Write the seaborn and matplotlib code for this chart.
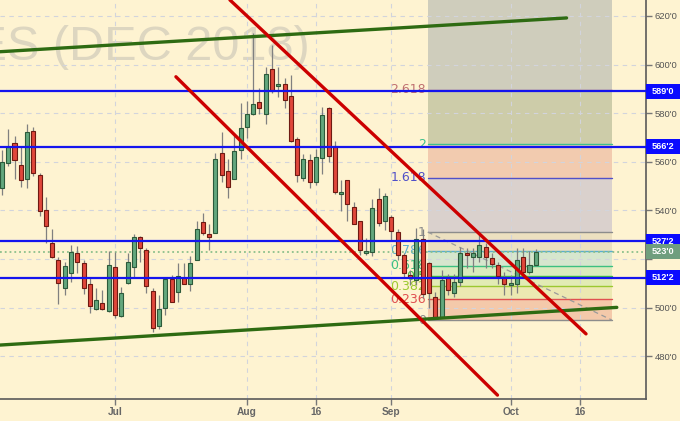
import matplotlib
matplotlib.use('Agg')
import matplotlib.pyplot as plt
import matplotlib.transforms as mtransforms
from matplotlib.patches import Rectangle
import numpy as np
import pandas as pd
import seaborn as sns

# Trading day index, day 0 = 2 Jul 2018
days = list(range(-18, 68))
opens = [549.2, 559.5, 567.7, 558.7, 552.9, 572.7, 554.6, 540.2, 526.6, 519.6,
         508.1, 514.2, 522.5, 518.4, 509.7, 499.4, 501.9, 498.6, 516.7, 496.5,
         510.1, 516.7, 529.0, 523.7, 506.8, 492.4, 499.8, 511.8, 506.4, 512.2,
         509.7, 519.6, 535.2, 530.3, 530.7, 563.6, 556.2, 552.9, 564.9, 574.3,
         579.7, 584.6, 579.7, 598.2, 591.2, 592.0, 587.1, 569.4, 553.3, 560.7,
         551.7, 561.6, 582.1, 566.5, 546.9, 552.5, 541.4, 535.6, 522.5, 522.9,
         544.7, 535.6, 537.3, 531.1, 521.6, 513.4, 511.4, 528.2, 518.4, 504.4,
         496.1, 512.6, 506.0, 510.5, 522.5, 520.8, 520.8, 524.9, 520.4, 517.6,
         512.6, 509.3, 509.7, 520.8, 514.7, 517.6]
highs = [564.9, 573.5, 570.6, 566.1, 575.5, 574.3, 555.4, 545.5, 532.3, 520.8,
         518.8, 525.8, 525.4, 519.6, 512.6, 508.1, 507.2, 523.3, 522.9, 508.5,
         522.5, 530.3, 529.4, 524.5, 508.1, 505.2, 512.6, 513.4, 518.4, 518.4,
         521.2, 535.6, 538.9, 534.4, 563.6, 572.3, 561.2, 571.0, 584.2, 585.0,
         613.0, 590.4, 599.0, 608.1, 599.0, 594.5, 595.7, 570.2, 563.2, 563.2,
         565.3, 582.5, 582.5, 568.6, 552.5, 552.5, 543.4, 535.6, 528.6, 544.7,
         549.2, 547.2, 538.1, 532.3, 522.5, 515.5, 532.8, 532.3, 518.8, 506.4,
         515.5, 513.8, 513.8, 524.9, 524.5, 524.5, 531.1, 526.6, 522.5, 518.8,
         514.7, 513.4, 524.5, 524.5, 523.3, 524.1]
lows = [546.3, 558.3, 552.9, 549.6, 549.2, 554.2, 537.7, 526.6, 520.4, 501.5,
        505.2, 510.5, 514.2, 505.6, 497.8, 499.0, 499.0, 498.2, 495.7, 496.1,
        509.7, 512.6, 518.8, 506.0, 490.0, 491.2, 497.0, 502.3, 502.3, 509.7,
        506.8, 519.6, 529.9, 523.7, 530.7, 551.7, 545.1, 552.9, 561.2, 569.8,
        579.3, 579.7, 575.5, 588.3, 586.7, 582.1, 568.1, 551.7, 552.1, 549.2,
        550.4, 555.0, 559.9, 546.7, 539.8, 535.6, 534.4, 521.6, 521.6, 521.2,
        533.6, 531.9, 527.8, 519.6, 512.6, 509.3, 509.3, 504.0, 499.8, 495.7,
        495.7, 505.2, 504.4, 508.9, 516.3, 514.7, 518.8, 516.3, 516.3, 509.7,
        505.2, 505.2, 506.0, 513.0, 513.8, 517.1]
closes = [559.9, 566.1, 560.7, 552.5, 572.3, 555.4, 539.8, 533.6, 520.8, 510.1,
          517.1, 522.9, 518.8, 508.1, 500.7, 503.1, 499.4, 517.6, 497.0, 506.0,
          518.8, 529.0, 524.5, 508.9, 491.6, 499.4, 511.8, 502.3, 513.0, 509.7,
          518.4, 532.3, 530.7, 529.0, 561.2, 554.6, 549.6, 564.4, 573.9, 579.7,
          583.8, 582.1, 596.1, 589.1, 592.0, 585.4, 568.6, 554.6, 561.2, 551.7,
          562.0, 579.3, 562.4, 547.6, 547.4, 542.6, 534.4, 523.7, 523.3, 541.0,
          534.8, 545.9, 531.5, 521.6, 514.2, 512.6, 528.2, 505.6, 506.0, 496.1,
          511.4, 507.2, 510.5, 522.5, 521.6, 522.5, 525.8, 520.8, 518.0, 513.0,
          509.7, 510.1, 519.6, 514.7, 517.6, 523.0]

tick_days = [0, 21, 32, 44, 63, 74]
tick_names = ['Jul', 'Aug', '16', 'Sep', 'Oct', '16']
price_ticks = [480, 500, 520, 540, 560, 580, 600, 620]
price_tick_labels = ["480'0", "500'0", "", "540'0", "560'0", "580'0", "600'0", "620'0"]

# Horizontal levels (blue) and last price
levels = [589.0, 566.25, 527.25, 512.25]
level_labels = ["589'0", "566'2", "527'2", "512'2"]
last_price = 523.0
last_label = "523'0"

# Fibonacci extension block
fib_ratios = ['0', '0.236', '0.382', '0.5', '0.618', '0.786', '1', '1.618', '2', '2.618']
fib_prices = [494.9, 503.4, 508.7, 513.0, 517.3, 523.4, 531.1, 553.5, 567.3, 589.7]
fib_line_colors = ['#8c8c8c', '#e05050', '#9cc830', '#40c040', '#3cc080',
                   '#5aaed0', '#8c8c8c', '#5050c8', '#3cc08c', '#c07070']
fib_fill_colors = ['#f4c9aa', '#ece8b2', '#e2ebb4', '#d9ebbd', '#d6e6cd',
                   '#ece0c0', '#dad1cd', '#f2cbaf', '#cdcca9', '#cfcdbc']
fib_start, fib_end = 49.8, 79.1

# Trendlines (day, price) end points
green_up = ([-18.3, 71.9], [605.3, 619.2])
green_low = ([-18.3, 79.9], [484.6, 500.1])
red_up = ([18.3, 75.0], [626.6, 489.2])
red_low = ([9.7, 60.9], [595.0, 464.0])
fib_diag = ([fib_start, fib_end], [531.1, 494.9])

BG = '#fef3d1'
sns.set_theme(style='white', rc={'axes.facecolor': BG, 'figure.facecolor': BG})
plt.rcParams['font.family'] = ['DejaVu Sans']

fig = plt.figure(figsize=(6.8, 4.21), dpi=100)
ax = fig.add_axes([0, 22 / 421, 646 / 680, 399 / 421])
ax.set_xlim(-18.31, 84.55)
ax.set_ylim(462.4, 626.58)

# watermark
ax.text(31.05, 601.9, 'WHEAT FUTURES (DEC 2018)', ha='right', va='baseline',
        fontsize=35, color='#ddd6c0', family='Liberation Sans', zorder=0.4)

# fibonacci block
edges = fib_prices + [626.58]
for i in range(len(fib_prices)):
    ax.fill_between([fib_start, fib_end], edges[i], edges[i + 1],
                    color=fib_fill_colors[i], lw=0, zorder=0.2)
for r, p, c in zip(fib_ratios, fib_prices, fib_line_colors):
    ax.plot([fib_start, fib_end], [p, p], color=c, lw=1.0, zorder=1)
    ax.text(49.52, p, r, ha='right', va='center', fontsize=9, color=c, zorder=1.5)
sns.lineplot(x=fib_diag[0], y=fib_diag[1], ax=ax, color='#9a9a9a', lw=0.9,
             linestyle=(0, (4, 3)), zorder=1.2)

# last price dotted line
ax.axhline(last_price, color='#8cc08c', ls=':', lw=1.3, zorder=2)

# candles
df = pd.DataFrame({'day': days, 'open': opens, 'high': highs, 'low': lows, 'close': closes})
up = df['close'] >= df['open']
ax.vlines(df['day'], df['low'], df['high'], color='#808080', lw=0.9, zorder=3)
body_low = df[['open', 'close']].min(axis=1)
body_h = (df['close'] - df['open']).abs().clip(lower=0.5)
ax.bar(df['day'][up], body_h[up], bottom=body_low[up], width=0.64,
       color='#63a77d', edgecolor='#2c5a3a', lw=0.8, zorder=4)
ax.bar(df['day'][~up], body_h[~up], bottom=body_low[~up], width=0.64,
       color='#e0473b', edgecolor='#6e1a12', lw=0.8, zorder=4)

# blue levels
for p in levels:
    ax.axhline(p, color='#1414ee', lw=1.6, zorder=5)

# trendlines
for (xs, ys), col in [(green_up, '#2e6b12'), (green_low, '#2e6b12'),
                      (red_up, '#cc0000'), (red_low, '#cc0000')]:
    sns.lineplot(x=xs, y=ys, ax=ax, color=col, lw=2.4, zorder=6,
                 solid_capstyle='round')

# axes styling
for s in ['left', 'top']:
    ax.spines[s].set_visible(False)
for s in ['bottom', 'right']:
    ax.spines[s].set_color('#5a5a5a')
    ax.spines[s].set_linewidth(1.2)
ax.yaxis.tick_right()
ax.set_yticks(price_ticks)
ax.set_yticklabels(price_tick_labels, family='Liberation Sans')
ax.set_xticks(tick_days)
ax.set_xticklabels(tick_names, family='Liberation Sans', fontweight='bold')
ax.tick_params(axis='y', direction='out', length=4, color='#777777', width=1,
               labelsize=6.8, labelcolor='#555555', pad=2, right=True, left=False)
ax.tick_params(axis='x', direction='out', length=4, color='#777777', width=1,
               labelsize=7.3, labelcolor='#666666', pad=2, bottom=True)
ax.grid(True, color='#d2d4dc', linestyle=(0, (4, 4)), linewidth=0.8)
ax.set_axisbelow(True)
ax.set_xlabel('')
ax.set_ylabel('')

# right-side price boxes
trans = mtransforms.blended_transform_factory(ax.transAxes, ax.transData)
box_w = 34 / 646
for p, lab, col in list(zip(levels, level_labels, ['#0a0aff'] * 4)) + [(last_price, last_label, '#6f9e7e')]:
    ax.add_patch(Rectangle((1.0, p - 3.1), box_w, 6.2, transform=trans, clip_on=False,
                           fc=col, ec='none', zorder=10))
    ax.text(1.0 + box_w / 2, p, lab, transform=trans, ha='center', va='center',
            color='white', fontsize=6.6, fontweight='bold', family='Liberation Sans',
            clip_on=False, zorder=11)

fig.savefig('out.png', dpi=100, facecolor=BG)
